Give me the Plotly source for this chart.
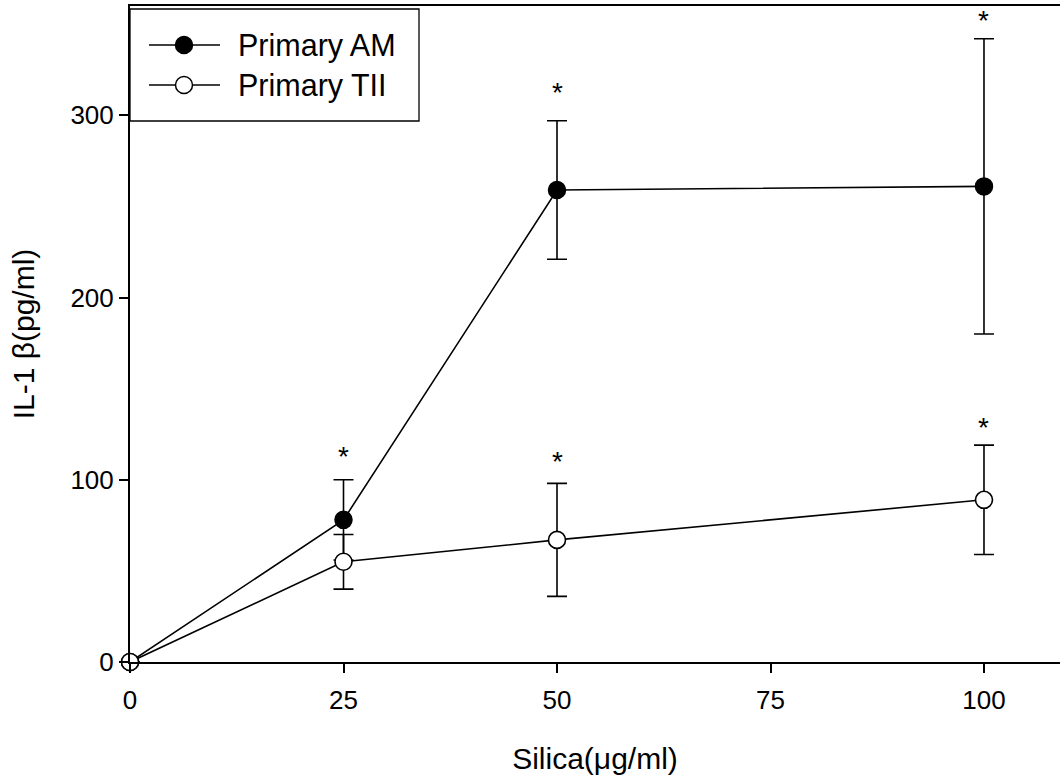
import plotly.graph_objects as go

# Silica dose (ug/ml)
silica = [0, 25, 50, 100]

# IL-1 beta (pg/ml), mean and error
am_mean = [0, 78, 259, 261]
am_err = [0, 22, 38, 81]
tii_mean = [0, 55, 67, 89]
tii_err = [0, 15, 31, 30]

# significance markers
star_x = [25, 50, 100, 50, 100]
star_y = [115, 315, 354, 112, 131]

x_ticks = [0, 25, 50, 75, 100]
y_ticks = [0, 100, 200, 300]

FONT = "Arial, Liberation Sans, sans-serif"
W, H = 1060, 781
ML, MR, MT, MB = 130, 0, 6, 119
PW, PH = W - ML - MR, H - MT - MB


def px_x(p):
    return (p - ML) / PW


def px_y(p):
    return (H - MB - p) / PH


fig = go.Figure()

fig.add_trace(go.Scatter(
    x=silica, y=am_mean, mode="lines+markers", name="Primary AM",
    line=dict(color="black", width=1.6),
    marker=dict(symbol="circle", size=17, color="black",
                line=dict(color="black", width=1.5)),
    error_y=dict(type="data", array=am_err, visible=True,
                 color="black", thickness=1.6, width=10),
    cliponaxis=False, showlegend=False,
))

fig.add_trace(go.Scatter(
    x=silica, y=tii_mean, mode="lines+markers", name="Primary TII",
    line=dict(color="black", width=1.6),
    marker=dict(symbol="circle", size=17, color="white",
                line=dict(color="black", width=1.6)),
    error_y=dict(type="data", array=tii_err, visible=True,
                 color="black", thickness=1.6, width=10),
    cliponaxis=False, showlegend=False,
))

annotations = []
for sx, sy in zip(star_x, star_y):
    annotations.append(dict(x=sx, y=sy, xref="x", yref="y", text="*",
                            showarrow=False, xanchor="center", yanchor="middle",
                            yshift=-4,
                            font=dict(family=FONT, size=28, color="black")))

# Boxed key in the upper-left corner
shapes = [
    dict(type="rect", xref="paper", yref="paper",
         x0=px_x(130), x1=px_x(419), y0=px_y(121), y1=px_y(9),
         line=dict(color="black", width=1.3), fillcolor="white", layer="above"),
]
key_rows = [("Primary AM", "black", 45), ("Primary TII", "white", 85)]
for label, fill, py in key_rows:
    shapes.append(dict(type="line", xref="paper", yref="paper",
                       x0=px_x(149), x1=px_x(220), y0=px_y(py), y1=px_y(py),
                       line=dict(color="black", width=1.6), layer="above"))
    shapes.append(dict(type="circle", xref="paper", yref="paper",
                       xsizemode="pixel", ysizemode="pixel",
                       xanchor=px_x(184), yanchor=px_y(py),
                       x0=-8.5, x1=8.5, y0=-8.5, y1=8.5,
                       line=dict(color="black", width=1.5),
                       fillcolor=fill, layer="above"))
    annotations.append(dict(xref="paper", yref="paper", x=px_x(236), y=px_y(py),
                            xanchor="left", yanchor="middle", showarrow=False,
                            text=label,
                            font=dict(family=FONT, size=30.5, color="black")))

fig.update_layout(
    width=W, height=H,
    margin=dict(l=ML, r=MR, t=MT, b=MB, pad=0),
    paper_bgcolor="white", plot_bgcolor="white",
    font=dict(family=FONT, color="black"),
    shapes=shapes, annotations=annotations,
    xaxis=dict(
        range=[0, 108.9], tickvals=x_ticks, ticktext=[str(v) for v in x_ticks],
        ticks="outside", ticklen=9, tickwidth=1.6, tickcolor="black",
        ticklabelstandoff=5,
        showline=True, linecolor="black", linewidth=2, mirror=True,
        showgrid=False, zeroline=False,
        tickfont=dict(family=FONT, size=26),
        title=dict(text="Silica(\u03bcg/ml)", standoff=34,
                   font=dict(family=FONT, size=30)),
    ),
    yaxis=dict(
        range=[0, 360], tickvals=y_ticks, ticktext=[str(v) for v in y_ticks],
        ticks="outside", ticklen=9, tickwidth=1.6, tickcolor="black",
        showline=True, linecolor="black", linewidth=2,
        showgrid=False, zeroline=False,
        tickfont=dict(family=FONT, size=26),
        title=dict(text="IL-1 \u03b2(pg/ml)", standoff=27,
                   font=dict(family=FONT, size=30)),
    ),
)

fig.write_html("out.html")
